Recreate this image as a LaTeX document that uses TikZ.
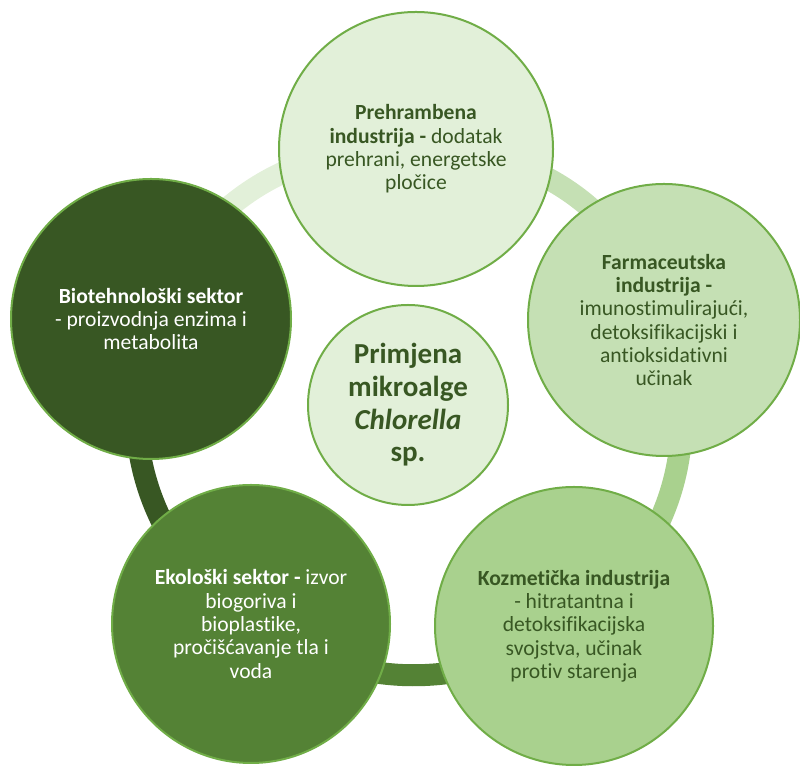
\documentclass[tikz,border=0pt]{standalone}
\usepackage{fontspec}
\setmainfont{Carlito}[Ligatures={NoCommon,NoContextual},Contextuals=NoAlternate]
\usetikzlibrary{backgrounds}
\definecolor{cA}{HTML}{E2F0D9}
\definecolor{cB}{HTML}{C5E0B4}
\definecolor{cC}{HTML}{A9D18E}
\definecolor{cD}{HTML}{548235}
\definecolor{cE}{HTML}{385723}
\definecolor{bord}{HTML}{70AD47}
\definecolor{txt}{HTML}{385723}
\tikzset{
  bubble/.style={circle, draw=bord, line width=2pt, inner sep=0pt, align=center,
    font=\fontsize{21.6}{23.3}\selectfont, text=txt},
  ringarc/.style={line width=22pt, bend left=36},
}
\begin{document}
\begin{tikzpicture}[x=1pt,y=1pt]
\useasboundingbox (0,0) rectangle (800,767);
\node[bubble, fill=cA, minimum size=274pt] (T) at (416,618)
  {\textbf{Prehrambena}\\ \textbf{industrija -} dodatak\\ prehrani, energetske\\ pločice};
\node[bubble, fill=cB, minimum size=272pt] (F) at (664,447)
  {\textbf{Farmaceutska}\\ \textbf{industrija -}\\ imunostimulirajući,\\ detoksifikacijski i\\ antioksidativni\\ učinak};
\node[bubble, fill=cC, minimum size=278pt] (K) at (574,141)
  {\textbf{Kozmetička industrija}\\ - hitratantna i\\ detoksifikacijska\\ svojstva, učinak\\ protiv starenja};
\node[bubble, fill=cD, minimum size=278pt, text=white] (E) at (251,143)
  {\textbf{Ekološki sektor -} izvor\\ biogoriva i\\ bioplastike,\\ pročišćavanje tla i\\ voda};
\node[bubble, fill=cE, minimum size=280pt, text=white] (B) at (151,448)
  {\textbf{Biotehnološki sektor}\\ - proizvodnja enzima i\\ metabolita};
\node[bubble, fill=cA, minimum size=200pt, font=\bfseries\fontsize{29}{32.6}\selectfont] (C) at (408,362)
  {Primjena\\ mikroalge\\ \textit{Chlorella}\\ sp.};
\begin{scope}[on background layer]
  \draw[ringarc, cB] (T.center) to (F.center);
  \draw[ringarc, cC] (F.center) to (K.center);
  \draw[ringarc, cD, bend left=32] (K.center) to (E.center);
  \draw[ringarc, cE] (E.center) to (B.center);
  \draw[ringarc, cA] (B.center) to (T.center);
\end{scope}
\end{tikzpicture}
\end{document}
